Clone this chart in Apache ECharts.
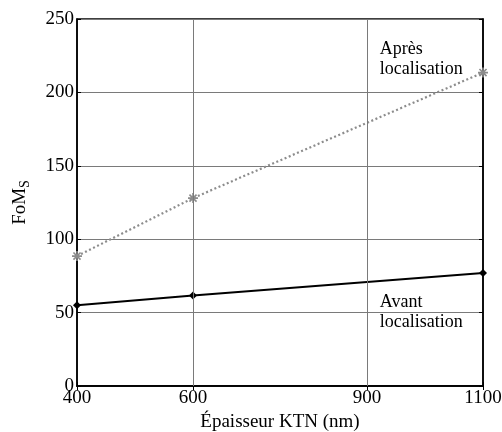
<!DOCTYPE html>
<html><head><meta charset="utf-8">
<script src="https://cdn.jsdelivr.net/npm/echarts@6/dist/echarts.min.js"></script>
<style>html,body{margin:0;padding:0;background:#fff}#c{width:502px;height:432px}</style>
</head><body><div id="c"></div>
<script>
var thickness = [400, 600, 1100];
var apres = [88.5, 128, 213.5];
var avant = [55, 61.6, 77];
var xTicks = [400, 600, 900, 1100];
var xGrid = [600, 900];
var labelApres = 'Après\nlocalisation';
var labelAvant = 'Avant\nlocalisation';

var FONT = '"Liberation Serif","Times New Roman",serif';
var FS = 19;
var asterisk = 'path://M-0.8,-5L0.8,-5L0.8,5L-0.8,5Z M-5,-0.8L5,-0.8L5,0.8L-5,0.8Z M-4.11,-2.97L-2.97,-4.11L4.11,2.97L2.97,4.11Z M-2.97,4.11L-4.11,2.97L2.97,-4.11L4.11,-2.97Z';

var chart = echarts.init(document.getElementById('c'), null, {renderer:'canvas'});
chart.setOption({
  animation:false,
  backgroundColor:'#fff',
  textStyle:{fontFamily:FONT},
  grid:{left:77, right:19, top:19, bottom:46, containLabel:false, outerBoundsMode:'none', show:true, borderColor:'#000', borderWidth:1.5, backgroundColor:'transparent'},
  xAxis:[{
    type:'value', min:400, max:1100,
    name:'Épaisseur KTN (nm)', nameLocation:'middle', nameGap:23,
    nameTextStyle:{fontFamily:FONT, fontSize:FS, color:'#000', verticalAlign:'top'},
    axisLine:{show:true, lineStyle:{color:'#000', width:1.5}},
    axisTick:{show:true, inside:true, length:4, customValues:xTicks, lineStyle:{color:'#000'}},
    axisLabel:{show:true, customValues:xTicks, margin:3, fontFamily:FONT, fontSize:FS, color:'#000', formatter:function(v){return String(v);}},
    splitLine:{show:false}
  },{
    type:'value', min:400, max:1100, position:'top',
    axisLine:{show:true, lineStyle:{color:'#000', width:1.5}},
    axisTick:{show:true, inside:true, length:4, customValues:xTicks, lineStyle:{color:'#000'}},
    axisLabel:{show:false}, splitLine:{show:false}
  }],
  yAxis:[{
    type:'value', min:0, max:250, interval:50,
    name:'FoM{s|S}', nameLocation:'middle', nameGap:45, nameRotate:90,
    nameTextStyle:{fontFamily:FONT, fontSize:FS, color:'#000', rich:{s:{fontFamily:FONT, fontSize:14, color:'#000', verticalAlign:'bottom', padding:[9,0,0,0]}}},
    axisLine:{show:true, lineStyle:{color:'#000', width:1.5}},
    axisTick:{show:true, inside:true, length:4, lineStyle:{color:'#000'}},
    axisLabel:{margin:3, fontFamily:FONT, fontSize:FS, color:'#000'},
    splitLine:{show:true, lineStyle:{color:'#7a7a7a', width:1}}
  },{
    type:'value', min:0, max:250, interval:50, position:'right',
    axisLine:{show:true, lineStyle:{color:'#000', width:1.5}},
    axisTick:{show:true, inside:true, length:4, lineStyle:{color:'#000'}},
    axisLabel:{show:false}, splitLine:{show:false}
  }],
  series:[{
    type:'line', name:'Après',
    data:thickness.map(function(x,i){return [x, apres[i]];}),
    symbol:asterisk, symbolSize:10, showSymbol:true,
    itemStyle:{color:'#8c8c8c'},
    lineStyle:{color:'#8c8c8c', width:2.2, type:[2,2.5]},
    markLine:{silent:true, symbol:['none','none'], label:{show:false},
      lineStyle:{color:'#7a7a7a', width:1, type:'solid'},
      data:xGrid.map(function(v){return {xAxis:v};})},
    markPoint:{silent:true, symbol:'circle', symbolSize:0,
      label:{show:true, position:'right', distance:0, formatter:labelApres, fontFamily:FONT, fontSize:18, color:'#000', lineHeight:20, align:'left'},
      data:[{coord:[922, 222.5]}]},
    z:3
  },{
    type:'line', name:'Avant',
    data:thickness.map(function(x,i){return [x, avant[i]];}),
    symbol:'diamond', symbolSize:8, showSymbol:true,
    itemStyle:{color:'#000'},
    lineStyle:{color:'#000', width:2},
    markPoint:{silent:true, symbol:'circle', symbolSize:0,
      label:{show:true, position:'right', distance:0, formatter:labelAvant, fontFamily:FONT, fontSize:18, color:'#000', lineHeight:20, align:'left'},
      data:[{coord:[922, 50]}]},
    z:4
  }]
});
</script></body></html>
